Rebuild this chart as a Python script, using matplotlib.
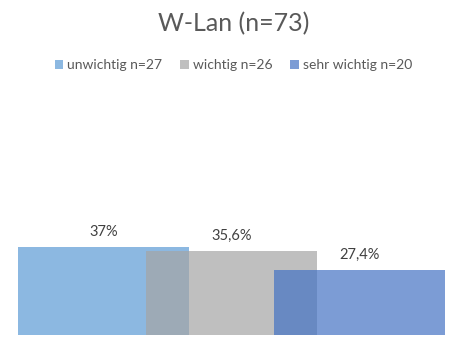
import matplotlib
matplotlib.use("Agg")
import matplotlib.pyplot as plt
from matplotlib.patches import Patch

plt.rcParams['font.family'] = ['Lato', 'DejaVu Sans']

title = "W-Lan (n=73)"
categories = ["unwichtig n=27", "wichtig n=26", "sehr wichtig n=20"]
values = [37.0, 35.6, 27.4]
labels = ["37%", "35,6%", "27,4%"]
colors = ["#5B9BD5", "#A5A5A5", "#4472C4"]

fig = plt.figure(figsize=(4.67, 3.47), dpi=100)
W, H = 467, 347
ax = fig.add_axes([18 / W, (347 - 335) / H, (445 - 18) / W, 94.8 / H])

bar_w = 1.336
xs = list(range(len(values)))
for x, v, c, lab in zip(xs, values, colors, labels):
    ax.bar(x, v, width=bar_w, color=c, alpha=0.7, linewidth=0)
    ax.text(x, v + 6.3, lab, ha="center", va="center", fontsize=10.5,
            color="#404040", clip_on=False)

ax.set_xlim(-bar_w / 2, xs[-1] + bar_w / 2)
ax.set_ylim(0, 40)
ax.axis("off")

fig.text(0.5, 1 - 24 / H, title, ha="center", va="center", fontsize=18,
         color="#595959")

handles = [Patch(facecolor=c, alpha=0.7, linewidth=0) for c in colors]
fig.legend(handles, categories, loc="center", bbox_to_anchor=(0.5, 1 - 65 / H),
           ncol=3, frameon=False, fontsize=10, handlelength=0.6, handleheight=0.6,
           handletextpad=0.3, columnspacing=1.3, labelcolor="#595959")

fig.savefig("out.png", dpi=100)
